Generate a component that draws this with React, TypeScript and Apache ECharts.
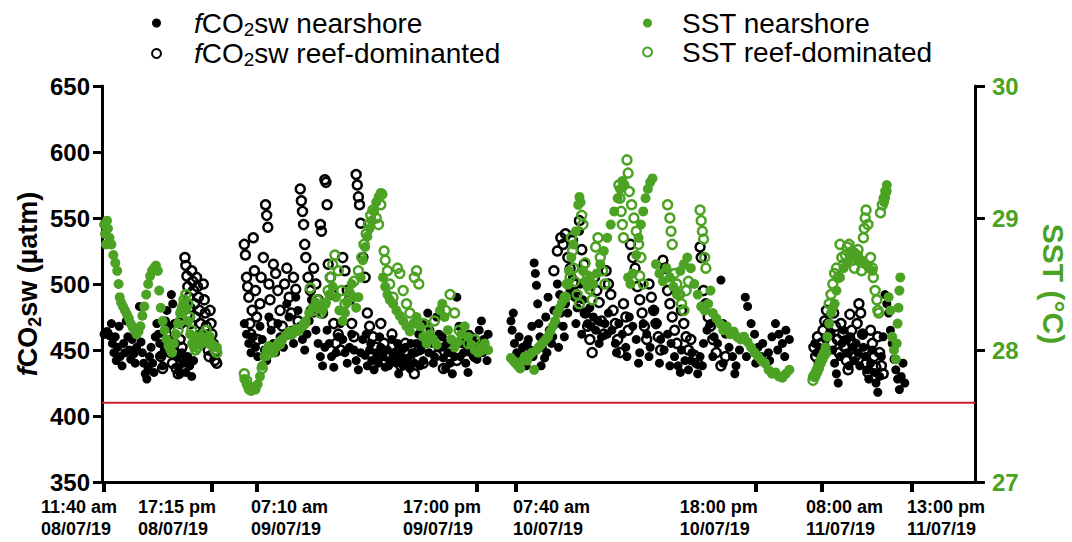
import React, { useEffect, useRef } from "react";
import * as echarts from "echarts";

const FONT = "Liberation Sans, Arial, Helvetica, sans-serif";
const GREEN = "#4ca223";
const RED = "#cc1f2d";
const REF_LEVEL = 410;

// Left axis (fCO2sw, µatm) and right axis (SST, °C)
const fco2Range = [350, 650, 50];
const sstRange = [27, 30, 1];

// x tick positions (hour of day) and labels for the four sampling days
const tickHours1 = [11 + 40 / 60, 17.25];
const tickHours2 = [7 + 10 / 60, 17];
const tickHours3 = [7 + 40 / 60, 18];
const tickHours4 = [8, 13];
const tickLabels1 = ["11:40 am\n08/07/19", "17:15 pm\n08/07/19"];
const tickLabels2 = ["07:10 am\n09/07/19", "17:00 pm\n09/07/19"];
const tickLabels3 = ["07:40 am\n10/07/19", "18:00 pm\n10/07/19"];
const tickLabels4 = ["08:00 am\n11/07/19", "13:00 pm\n11/07/19"];

// ---------- Day 1 (08/07/19) ----------
const d1Fco2Near = [[11.67,462],[11.72,463],[11.77,462],[11.82,464],[11.87,463],[11.95,461],[12.05,470],[12.1,455],[12.18,448],[12.25,460],[12.3,442],[12.38,452],[12.45,468],[12.5,445],[12.6,438],[12.68,455],[12.75,448],[12.82,472],[12.9,460],[12.98,450],[13.05,443],[13.12,458],[13.2,447],[13.28,440],[13.35,452],[13.42,465],[13.5,483],[13.58,456],[13.65,448],[13.72,440],[13.8,432],[13.88,428],[13.95,436],[14.02,445],[14.1,452],[14.18,440],[14.25,433],[14.32,460],[14.4,470],[14.48,462],[14.55,455],[14.62,446],[14.7,438],[14.78,450],[14.85,472],[14.92,480],[15.0,468],[15.08,458],[15.15,492],[15.22,485],[15.3,470],[15.38,455],[15.45,445],[15.52,437],[15.6,432],[15.7,448],[15.8,440],[15.9,433],[16.0,445],[16.1,438],[16.2,430],[16.3,442]];
const d1Fco2Reef = [[14.6,445],[14.7,436],[14.9,462],[15.0,455],[15.1,448],[15.2,440],[15.3,448],[15.4,436],[15.5,432],[15.55,445],[15.6,458],[15.65,470],[15.7,452],[15.8,442],[15.85,520],[15.9,514],[15.95,506],[16.0,498],[16.05,490],[16.1,482],[16.15,470],[16.2,510],[16.25,502],[16.3,495],[16.35,485],[16.4,475],[16.45,505],[16.5,498],[16.55,490],[16.6,480],[16.65,470],[16.7,462],[16.75,455],[16.8,500],[16.85,488],[16.9,478],[16.95,468],[17.0,458],[17.05,450],[17.1,445],[17.15,480],[17.2,470],[17.25,462],[17.3,455],[17.35,448],[17.4,442],[17.45,450],[17.5,440]];
const d1SstNear = [[11.67,28.95],[11.72,28.88],[11.77,28.80],[11.82,28.98],[11.87,28.92],[11.95,28.85],[12.05,28.80],[12.15,28.72],[12.25,28.66],[12.35,28.60],[12.42,28.50],[12.48,28.40],[12.55,28.36],[12.65,28.33],[12.75,28.30],[12.85,28.27],[12.95,28.24],[13.05,28.20],[13.15,28.17],[13.25,28.15],[13.35,28.12],[13.45,28.14],[13.55,28.18],[13.65,28.26],[13.75,28.33],[13.85,28.42],[13.95,28.50],[14.05,28.56],[14.15,28.60],[14.25,28.62],[14.35,28.64],[14.45,28.60],[14.52,28.45],[14.60,28.32],[14.70,28.22],[14.80,28.15],[14.90,28.08],[15.00,28.03],[15.10,28.00],[15.18,27.98],[15.28,28.05],[15.38,28.12],[15.50,28.20],[15.60,28.28],[15.70,28.33],[15.82,28.36],[15.92,28.32],[16.02,28.22],[16.12,28.12],[16.22,28.05],[16.32,28.02],[16.45,28.08],[16.60,28.10],[16.75,28.05],[16.90,28.06],[17.05,28.10],[17.20,28.05],[17.35,28.03],[17.50,28.02]];
const d1SstReef = [[15.5,28.15],[15.6,28.22],[15.7,28.3],[15.8,28.38],[15.9,28.42],[16.0,28.35],[16.1,28.25],[16.2,28.15],[16.3,28.05],[16.4,28.0],[16.5,28.02],[16.65,28.08],[16.8,28.12],[16.95,28.15],[17.1,28.1],[17.25,28.04],[17.4,28.0],[17.5,27.98]];

// ---------- Day 2 (09/07/19) ----------
const d2Fco2Near = [[6.6,470],[6.7,462],[6.8,455],[6.9,448],[7.0,460],[7.1,452],[7.2,445],[7.3,468],[7.4,458],[7.5,450],[7.6,442],[7.7,475],[7.8,465],[7.9,455],[8.0,448],[8.1,470],[8.2,460],[8.35,452],[8.5,485],[8.6,475],[8.7,465],[8.8,455],[8.9,490],[9.0,480],[9.1,468],[9.2,458],[9.3,450],[9.4,462],[9.5,472],[9.6,488],[9.7,478],[9.8,465],[9.9,455],[10.0,445],[10.1,438],[10.2,452],[10.3,465],[10.4,455],[10.5,445],[10.6,437],[10.7,448],[10.8,460],[10.9,470],[11.0,458],[11.1,448],[11.2,440],[11.3,452],[11.4,462],[11.5,450],[11.6,442],[11.7,435],[11.8,448],[11.9,458],[12.0,446],[12.1,438],[12.2,450],[12.3,442],[12.4,435],[12.5,448],[12.6,440],[12.7,452],[12.8,445],[12.9,437],[13.0,450],[13.1,442],[13.2,458],[13.3,448],[13.4,440],[13.5,432],[13.6,445],[13.7,438],[13.8,452],[13.9,444],[14.0,436],[14.1,448],[14.2,440],[14.3,455],[14.4,462],[14.5,450],[14.6,442],[14.7,470],[14.8,478],[14.9,465],[15.0,455],[15.1,445],[15.2,475],[15.3,462],[15.4,452],[15.5,444],[15.6,436],[15.7,448],[15.8,440],[15.9,432],[16.0,445],[16.1,490],[16.2,468],[16.3,455],[16.4,448],[16.5,440],[16.6,433],[16.7,448],[16.8,460],[16.9,452],[17.0,443],[17.1,465],[17.2,472],[17.3,458],[17.4,450],[17.5,462],[12.05,462],[12.25,455],[12.45,443],[12.65,460],[12.85,450],[13.05,438],[13.25,445],[13.45,455],[13.65,450],[13.85,440],[14.05,455],[14.25,448],[14.45,438],[14.65,455],[14.85,448],[15.05,440],[15.25,452],[15.45,460],[15.65,455],[15.85,448],[16.05,455],[16.25,445],[16.45,455],[16.65,462],[16.85,445],[17.05,455],[17.25,448],[17.45,442]];
const d2Fco2Reef = [[6.6,530],[6.65,522],[6.7,505],[6.75,498],[6.8,490],[6.85,470],[6.9,462],[6.95,480],[7.0,535],[7.05,510],[7.1,495],[7.15,475],[7.2,458],[7.3,485],[7.35,505],[7.45,520],[7.55,560],[7.6,552],[7.65,543],[7.7,500],[7.75,488],[7.85,470],[7.9,515],[8.0,508],[8.1,495],[8.2,480],[8.3,468],[8.4,500],[8.5,512],[8.6,490],[8.7,478],[8.8,505],[8.9,496],[9.0,472],[9.1,572],[9.15,563],[9.2,555],[9.25,545],[9.3,530],[9.35,520],[9.45,505],[9.55,495],[9.6,480],[9.7,512],[9.8,500],[9.9,488],[10.0,545],[10.05,540],[10.1,478],[10.2,579],[10.25,577],[10.3,560],[10.35,515],[10.45,505],[10.55,492],[10.6,470],[10.7,455],[10.8,462],[10.9,450],[11.0,520],[11.1,510],[11.2,495],[11.3,488],[11.4,470],[11.5,460],[11.6,583],[11.65,575],[11.7,566],[11.75,560],[11.8,546],[11.9,520],[12.0,505],[12.1,478],[12.2,468],[12.35,460],[12.5,452],[12.7,470],[12.85,455],[13.0,445],[13.2,462],[13.4,448],[13.6,438],[13.8,455],[14.0,442],[14.2,432],[14.4,450],[14.6,440],[14.9,458],[15.2,446],[15.5,436],[15.8,450],[16.1,442],[16.5,455],[16.9,445],[17.3,450]];
const d2SstNear = [[6.6,27.78],[6.7,27.74],[6.8,27.70],[6.9,27.69],[7.0,27.72],[7.1,27.70],[7.2,27.74],[7.3,27.80],[7.4,27.88],[7.5,27.95],[7.6,28.0],[7.7,28.03],[7.8,28.02],[7.9,27.98],[8.0,28.02],[8.1,28.05],[8.2,28.04],[8.3,28.08],[8.45,28.11],[8.6,28.14],[8.75,28.12],[8.9,28.16],[9.05,28.15],[9.2,28.18],[9.35,28.22],[9.5,28.28],[9.65,28.32],[9.8,28.36],[9.95,28.33],[10.1,28.30],[10.25,28.36],[10.4,28.42],[10.55,28.48],[10.7,28.40],[10.85,28.30],[11.0,28.22],[11.1,28.28],[11.2,28.36],[11.3,28.44],[11.4,28.50],[11.5,28.40],[11.6,28.32],[11.7,28.40],[11.8,28.55],[11.9,28.68],[12.0,28.78],[12.1,28.86],[12.2,28.92],[12.3,28.98],[12.4,29.05],[12.5,29.12],[12.6,29.16],[12.7,29.19],[12.8,28.55],[12.9,28.48],[13.0,28.42],[13.1,28.38],[13.25,28.35],[13.4,28.30],[13.55,28.26],[13.7,28.22],[13.85,28.18],[14.0,28.14],[14.15,28.20],[14.3,28.25],[14.45,28.18],[14.6,28.10],[14.75,28.05],[14.9,28.12],[15.05,28.08],[15.2,28.04],[15.35,28.30],[15.45,28.35],[15.55,28.25],[15.7,28.15],[15.85,28.08],[16.0,28.02],[16.15,28.06],[16.3,28.12],[16.45,28.18],[16.6,28.10],[16.75,28.04],[16.9,28.0],[17.05,27.98],[17.2,28.02],[17.35,28.05],[17.5,28.0]];
const d2SstReef = [[6.6,27.82],[6.7,27.77],[6.8,27.72],[7.4,27.86],[7.6,27.96],[7.9,28.0],[8.2,28.06],[8.6,28.12],[9.0,28.15],[9.3,28.2],[9.55,28.47],[9.7,28.3],[9.85,28.38],[10.0,28.28],[10.2,28.35],[10.35,28.45],[10.45,28.55],[10.55,28.65],[10.65,28.72],[10.8,28.6],[10.95,28.45],[11.1,28.35],[11.3,28.42],[11.5,28.52],[11.7,28.6],[11.85,28.7],[11.95,28.8],[12.05,28.88],[12.15,28.95],[12.25,29.02],[12.35,29.06],[12.5,29.0],[12.6,28.95],[12.7,29.1],[12.75,29.18],[12.85,28.75],[12.9,28.68],[13.0,28.6],[13.1,28.5],[13.25,28.4],[13.45,28.62],[13.55,28.58],[13.7,28.45],[13.85,28.35],[14.0,28.28],[14.2,28.55],[14.3,28.6],[14.4,28.5],[14.6,28.2],[14.8,28.15],[15.1,28.22],[15.6,28.3],[15.8,28.42],[16.0,28.28],[16.2,28.15],[16.6,28.05],[16.9,28.08],[17.2,28.0]];

// ---------- Day 3 (10/07/19) ----------
const d3Fco2Near = [[7.45,472],[7.5,465],[7.55,478],[7.6,455],[7.7,448],[7.8,460],[7.85,442],[7.95,452],[8.05,445],[8.1,438],[8.2,458],[8.3,450],[8.35,468],[8.45,516],[8.5,508],[8.55,499],[8.6,485],[8.65,470],[8.7,460],[8.8,452],[8.9,444],[8.95,475],[9.05,490],[9.1,465],[9.2,455],[9.3,480],[9.4,470],[9.45,500],[9.55,492],[9.6,478],[9.7,468],[9.8,485],[9.9,478],[10.0,495],[10.1,505],[10.2,490],[10.3,482],[10.4,540],[10.45,500],[10.55,488],[10.65,478],[10.75,470],[10.85,482],[11.0,475],[11.1,465],[11.2,472],[11.35,460],[11.5,470],[11.65,478],[11.8,465],[11.95,455],[12.1,470],[12.25,462],[12.4,452],[12.55,475],[12.7,468],[12.85,458],[13.0,448],[13.15,470],[13.3,462],[13.45,452],[13.6,480],[13.75,470],[13.9,458],[14.05,450],[14.2,462],[14.35,455],[14.5,445],[14.65,438],[14.8,450],[14.95,442],[15.1,435],[15.25,448],[15.4,440],[15.5,432],[15.6,445],[15.75,455],[15.9,465],[16.05,470],[16.2,460],[16.35,455],[16.5,503],[16.6,470],[16.7,462],[16.85,452],[17.0,445],[17.15,438],[17.3,450],[17.45,460],[17.55,490],[17.65,483],[17.8,470],[17.95,462],[18.1,452],[18.25,445],[18.4,440],[18.55,448],[18.7,460],[18.85,470],[19.0,462],[19.15,455],[19.3,465],[19.45,458],[7.65,440],[7.9,447],[8.15,455],[8.4,445],[8.75,438],[9.0,448],[9.25,460],[9.5,452],[9.75,460],[10.25,470],[10.5,462],[10.9,468],[11.25,455],[11.6,462],[12.0,448],[12.45,445],[12.95,440],[13.4,445],[13.85,440],[14.3,438],[14.75,433],[15.2,442],[15.7,438],[16.15,445],[16.6,440],[17.1,432],[17.6,445],[18.0,440],[18.3,455],[18.6,442],[18.95,450],[19.25,445]];
const d3Fco2Reef = [[9.3,510],[9.45,525],[9.6,535],[9.7,530],[9.8,538],[9.9,520],[10.0,512],[10.1,533],[10.2,500],[10.3,490],[10.4,548],[10.5,526],[10.6,515],[10.65,478],[10.75,468],[10.85,458],[10.95,448],[11.05,505],[11.15,495],[11.25,486],[11.35,472],[11.45,462],[11.55,510],[11.65,500],[11.75,492],[11.85,480],[11.95,470],[12.05,458],[12.15,448],[12.3,485],[12.4,475],[12.5,465],[12.6,530],[12.7,520],[12.8,512],[12.9,498],[13.0,488],[13.1,478],[13.2,468],[13.3,458],[13.4,500],[13.5,490],[13.6,480],[13.7,470],[13.8,460],[13.9,450],[14.0,518],[14.1,512],[14.2,495],[14.3,485],[14.4,475],[14.5,465],[14.6,455],[14.7,492],[14.8,480],[14.9,470],[15.0,460],[15.1,450],[15.2,458],[15.35,446],[15.5,440],[15.6,528],[15.65,520],[15.75,495],[15.85,485],[15.95,475],[16.05,468],[16.15,458],[16.3,448],[16.5,438],[16.7,445]];
const d3SstNear = [[7.45,27.94],[7.55,27.92],[7.65,27.90],[7.75,27.88],[7.85,27.86],[7.95,27.92],[8.05,27.95],[8.15,27.92],[8.25,27.96],[8.35,27.98],[8.45,27.85],[8.55,28.0],[8.65,28.02],[8.75,28.04],[8.85,28.06],[8.95,28.08],[9.05,28.1],[9.15,28.14],[9.25,28.18],[9.35,28.22],[9.45,28.28],[9.55,28.32],[9.65,28.36],[9.75,28.4],[9.85,28.5],[9.95,28.6],[10.05,28.7],[10.15,28.8],[10.25,28.9],[10.35,29.1],[10.4,29.16],[10.45,29.12],[10.55,28.6],[10.65,28.52],[10.75,28.48],[10.85,28.55],[11.0,28.5],[11.15,28.58],[11.3,28.65],[11.45,28.75],[11.6,28.85],[11.75,28.95],[11.9,29.05],[12.05,29.15],[12.15,29.22],[12.25,29.28],[12.35,29.25],[12.5,28.55],[12.6,28.5],[12.7,28.58],[12.85,28.72],[12.95,28.85],[13.05,28.95],[13.15,29.05],[13.25,29.15],[13.35,29.22],[13.45,29.27],[13.55,29.3],[13.7,28.65],[13.85,28.58],[14.0,28.52],[14.15,28.62],[14.3,28.55],[14.45,28.48],[14.6,28.42],[14.75,28.6],[14.9,28.65],[15.05,28.7],[15.2,28.62],[15.35,28.5],[15.5,28.42],[15.65,28.33],[15.8,28.3],[15.95,28.35],[16.05,28.45],[16.15,28.28],[16.3,28.24],[16.45,28.2],[16.6,28.15],[16.75,28.18],[16.9,28.12],[17.05,28.14],[17.2,28.1],[17.35,28.08],[17.5,28.1],[17.65,28.06],[17.8,28.02],[17.95,27.98],[18.1,27.95],[18.25,27.92],[18.4,27.9],[18.55,27.85],[18.7,27.82],[18.85,27.83],[19.0,27.8],[19.15,27.79],[19.3,27.82],[19.45,27.85]];
const d3SstReef = [[9.8,28.4],[9.9,28.5],[10.0,28.55],[10.05,28.85],[10.1,28.75],[10.15,28.62],[10.2,28.52],[10.3,28.42],[10.4,28.35],[10.5,29.02],[10.55,28.95],[10.65,28.66],[10.75,28.56],[10.85,28.46],[10.95,28.38],[11.1,28.78],[11.2,28.85],[11.3,28.7],[11.4,28.6],[11.5,28.5],[12.1,29.25],[12.15,29.15],[12.2,29.05],[12.25,28.95],[12.3,28.85],[12.45,29.44],[12.5,29.34],[12.55,29.2],[12.65,29.1],[12.75,29.0],[12.85,28.9],[12.95,28.8],[13.05,28.7],[13.0,28.56],[13.15,28.5],[14.2,29.1],[14.3,29.0],[14.35,28.9],[14.4,28.8],[14.5,28.58],[14.6,28.5],[14.7,28.42],[14.8,28.35],[14.9,28.3],[15.0,28.45],[15.1,28.52],[15.6,29.06],[15.65,28.98],[15.7,28.9],[15.75,28.84],[15.8,28.7],[15.85,28.62]];

// ---------- Day 4 (11/07/19) ----------
const d4Fco2Near = [[7.6,455],[7.7,448],[7.85,452],[8.0,445],[8.2,458],[8.4,470],[8.5,462],[8.6,450],[8.7,440],[8.8,432],[8.9,425],[9.0,445],[9.1,455],[9.2,465],[9.3,458],[9.4,448],[9.5,438],[9.6,460],[9.7,452],[9.8,442],[9.9,455],[10.0,448],[10.1,438],[10.2,462],[10.3,452],[10.4,445],[10.5,435],[10.6,428],[10.7,440],[10.8,450],[10.9,433],[11.0,425],[11.1,418],[11.2,430],[11.3,445],[11.4,460],[11.5,492],[11.6,485],[11.7,478],[11.8,465],[11.9,455],[12.0,443],[12.1,435],[12.2,428],[12.3,420],[12.4,430],[12.5,440],[12.6,425]];
const d4Fco2Reef = [[7.55,452],[7.65,445],[7.75,460],[7.85,440],[7.95,455],[8.05,465],[8.15,472],[8.25,480],[8.35,470],[8.45,462],[8.55,455],[8.65,478],[8.75,468],[8.85,458],[8.95,448],[9.05,470],[9.15,462],[9.25,452],[9.35,442],[9.45,435],[9.55,477],[9.65,465],[9.75,455],[9.85,445],[9.95,470],[10.05,485],[10.15,478],[10.25,462],[10.35,450],[10.45,440],[10.55,433],[10.7,465],[10.8,455],[10.9,445],[11.0,437],[11.1,460],[11.2,448],[11.3,438],[11.4,432]];
const d4SstNear = [[7.5,27.8],[7.6,27.82],[7.7,27.85],[7.8,27.88],[7.9,27.92],[8.0,27.95],[8.1,27.98],[8.2,28.02],[8.3,28.1],[8.4,28.2],[8.5,28.28],[8.6,28.32],[8.7,28.35],[8.8,28.45],[9.0,28.55],[9.2,28.62],[9.4,28.66],[9.6,28.7],[9.8,28.74],[10.0,28.72],[10.2,28.68],[10.4,28.65],[10.6,28.62],[10.8,28.6],[11.45,29.12],[11.5,29.16],[11.55,29.2],[11.6,29.25],[11.7,28.4],[11.8,28.3],[11.9,28.1],[12.0,28.0],[12.1,27.93],[12.15,28.05],[12.2,28.2],[12.25,28.32],[12.3,28.45],[12.35,28.55]];
const d4SstReef = [[7.5,27.77],[7.6,27.8],[7.7,27.83],[7.8,27.86],[7.9,27.9],[8.0,27.93],[8.1,27.96],[8.2,27.98],[8.4,28.35],[8.5,28.42],[8.6,28.5],[8.7,28.58],[8.8,28.62],[8.9,28.55],[9.0,28.8],[9.1,28.7],[9.2,28.65],[9.3,28.72],[9.4,28.78],[9.5,28.8],[9.6,28.74],[9.7,28.68],[9.8,28.62],[9.9,28.7],[10.0,28.76],[10.1,28.68],[10.2,28.6],[10.3,28.85],[10.35,28.92],[10.4,29.0],[10.45,29.06],[10.55,28.95],[10.7,28.7],[10.8,28.62],[10.85,28.55],[10.95,28.45],[11.05,28.38],[11.1,28.3],[11.15,28.28],[11.25,29.04],[11.35,29.1],[11.45,29.15],[11.55,29.2]];

const NAME_NEAR = "fCO2sw nearshore";
const NAME_REEF = "fCO2sw reef-dominanted";
const NAME_SST_NEAR = "SST nearshore";
const NAME_SST_REEF = "SST reef-dominated";

// layout of the four broken-axis panels (pixels / hour windows)
const panels = [
  { left: 102, width: 132, min: 11.563, max: 18.388, ticks: tickHours1, labels: tickLabels1, shift: [63, 74], data: [d1Fco2Near, d1Fco2Reef, d1SstNear, d1SstReef] },
  { left: 234, width: 262, min: 6.139, max: 17.851, ticks: tickHours2, labels: tickLabels2, shift: [6, 74], data: [d2Fco2Near, d2Fco2Reef, d2SstNear, d2SstReef] },
  { left: 496, width: 304, min: 6.805, max: 19.908, ticks: tickHours3, labels: tickLabels3, shift: [3, 76], data: [d3Fco2Near, d3Fco2Reef, d3SstNear, d3SstReef] },
  { left: 800, width: 175, min: 6.778, max: 16.5, ticks: tickHours4, labels: tickLabels4, shift: [16, 5], data: [d4Fco2Near, d4Fco2Reef, d4SstNear, d4SstReef] },
];
const TOP = 86;
const HEIGHT = 396;

function buildOption() {
  const grid: any[] = [];
  const xAxis: any[] = [];
  const yAxis: any[] = [];
  const series: any[] = [];

  panels.forEach((p, i) => {
    grid.push({ left: p.left, width: p.width, top: TOP, height: HEIGHT, containLabel: false });
    const rich: any = {};
    p.shift.forEach((s) => {
      rich["w" + s] = { width: s, align: "left", fontSize: 18, fontWeight: "bold", fontFamily: FONT, color: "#000", lineHeight: 22 };
    });
    xAxis.push({
      type: "value",
      gridIndex: i,
      min: p.min,
      max: p.max,
      splitLine: { show: false },
      axisLine: { show: true, onZero: false, lineStyle: { color: "#000", width: 3 } },
      axisTick: { show: true, customValues: p.ticks, length: 10, lineStyle: { color: "#000", width: 4 } },
      axisLabel: {
        show: true,
        customValues: p.ticks,
        align: "right",
        margin: 14,
        rich,
        formatter: (v: number) => {
          let k = 0;
          let best = Infinity;
          p.ticks.forEach((t, j) => {
            if (Math.abs(t - v) < best) { best = Math.abs(t - v); k = j; }
          });
          const [a, b] = p.labels[k].split("\n");
          const s = "w" + p.shift[k];
          return `{${s}|${a}}\n{${s}|${b}}`;
        },
      },
    });
    const showLeft = i === 0;
    const showRight = i === panels.length - 1;
    yAxis.push({
      type: "value",
      gridIndex: i,
      min: fco2Range[0],
      max: fco2Range[1],
      interval: fco2Range[2],
      show: showLeft,
      position: "left",
      splitLine: { show: false },
      axisLine: { show: true, lineStyle: { color: "#000", width: 3 } },
      axisTick: { show: true, length: 9, lineStyle: { color: "#000", width: 3 } },
      axisLabel: { fontSize: 24, fontWeight: "bold", fontFamily: FONT, color: "#000", margin: 12 },
      name: showLeft ? "{i|f}{n|CO}{s|2}{n|sw (\u00b5atm)}" : "",
      nameLocation: "middle",
      nameRotate: 90,
      nameGap: 58,
      nameTextStyle: {
        fontFamily: FONT,
        rich: {
          i: { fontStyle: "italic", fontWeight: "bold", fontSize: 27, fontFamily: FONT, color: "#000", lineHeight: 32 },
          n: { fontWeight: "bold", fontSize: 27, fontFamily: FONT, color: "#000", lineHeight: 32 },
          s: { fontWeight: "bold", fontSize: 18, fontFamily: FONT, color: "#000", lineHeight: 18, verticalAlign: "bottom" },
        },
      },
    });
    yAxis.push({
      type: "value",
      gridIndex: i,
      min: sstRange[0],
      max: sstRange[1],
      interval: sstRange[2],
      show: showRight,
      position: "right",
      splitLine: { show: false },
      axisLine: { show: true, lineStyle: { color: "#000", width: 3 } },
      axisTick: { show: true, length: 10, lineStyle: { color: "#000", width: 3 } },
      axisLabel: { fontSize: 24, fontWeight: "bold", fontFamily: FONT, color: GREEN, margin: 17 },
      name: showRight ? "SST (\u00b0C)" : "",
      nameLocation: "middle",
      nameRotate: -90,
      nameGap: 63,
      nameTextStyle: { fontSize: 30, fontWeight: "bold", fontFamily: FONT, color: GREEN },
    });

    const [near, reef, sNear, sReef] = p.data;
    series.push({
      type: "scatter", name: NAME_NEAR, xAxisIndex: i, yAxisIndex: 2 * i, data: near,
      symbol: "circle", symbolSize: 9, itemStyle: { color: "#000", opacity: 1 }, clip: false, z: 2,
    });
    series.push({
      type: "scatter", name: NAME_REEF, xAxisIndex: i, yAxisIndex: 2 * i, data: reef,
      symbol: "circle", symbolSize: 9, itemStyle: { color: "rgba(255,255,255,0)", borderColor: "#000", borderWidth: 2.5, opacity: 1 }, clip: false, z: 3,
    });
    series.push({
      type: "scatter", name: NAME_SST_NEAR, xAxisIndex: i, yAxisIndex: 2 * i + 1, data: sNear,
      symbol: "circle", symbolSize: 10, itemStyle: { color: GREEN, opacity: 1 }, clip: false, z: 4,
    });
    series.push({
      type: "scatter", name: NAME_SST_REEF, xAxisIndex: i, yAxisIndex: 2 * i + 1, data: sReef,
      symbol: "circle", symbolSize: 9, itemStyle: { color: "rgba(255,255,255,0)", borderColor: GREEN, borderWidth: 2.5, opacity: 1 }, clip: false, z: 5,
    });
  });

  // overlay panel spanning the full axis for the reference line
  const ov = panels.length;
  grid.push({ left: panels[0].left, width: panels[ov - 1].left + panels[ov - 1].width - panels[0].left, top: TOP, height: HEIGHT });
  xAxis.push({ type: "value", gridIndex: ov, min: 0, max: 1, show: false });
  yAxis.push({ type: "value", gridIndex: ov, min: fco2Range[0], max: fco2Range[1], show: false });
  series.push({
    type: "line", name: "reference", xAxisIndex: ov, yAxisIndex: 2 * ov,
    data: [[0, REF_LEVEL], [1, REF_LEVEL]], symbol: "none", silent: true,
    lineStyle: { color: RED, width: 2 }, z: 1,
  });

  const legendRich = {
    i: { fontStyle: "italic", fontSize: 28, fontFamily: FONT, color: "#000", lineHeight: 31 },
    n: { fontSize: 28, fontFamily: FONT, color: "#000", lineHeight: 31 },
    s: { fontSize: 19, fontFamily: FONT, color: "#000", lineHeight: 19, verticalAlign: "bottom" },
  };
  const legendFormatter = (name: string) =>
    name.startsWith("fCO2") ? `{i|f}{n|CO}{s|2}{n|${name.slice(4)}}` : `{n|${name}}`;

  const legend = [
    {
      left: 146, top: 4, orient: "vertical", itemGap: 1, itemWidth: 9, itemHeight: 9,
      data: [NAME_NEAR, NAME_REEF], formatter: legendFormatter,
      textStyle: { fontSize: 28, fontFamily: FONT, color: "#000", padding: [0, 0, 0, 28], rich: legendRich },
      selectedMode: false,
    },
    {
      left: 637, top: 4, orient: "vertical", itemGap: 1, itemWidth: 9, itemHeight: 9,
      data: [NAME_SST_NEAR, NAME_SST_REEF], formatter: legendFormatter,
      textStyle: { fontSize: 28, fontFamily: FONT, color: "#000", padding: [0, 0, 0, 25], rich: legendRich },
      selectedMode: false,
    },
  ];

  return { animation: false, backgroundColor: "#fff", grid, xAxis, yAxis, series, legend };
}

export default function App() {
  const ref = useRef<HTMLDivElement | null>(null);
  useEffect(() => {
    if (!ref.current) return;
    const chart = echarts.init(ref.current, null, { renderer: "svg" });
    chart.setOption(buildOption() as any);
    return () => chart.dispose();
  }, []);
  return (
    <div
      ref={ref}
      style={{ position: "fixed", left: 0, top: 0, width: 1072, height: 542, background: "#fff" }}
    />
  );
}
